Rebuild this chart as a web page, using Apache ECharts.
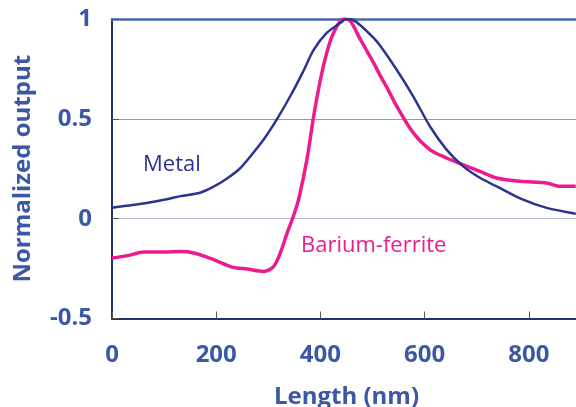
<!DOCTYPE html>
<html>
<head>
<meta charset="utf-8">
<script src="https://cdn.jsdelivr.net/npm/echarts@6/dist/echarts.min.js"></script>
<style>
  html, body { margin: 0; padding: 0; background: #fff; }
  #chart { width: 576px; height: 407px; }
</style>
</head>
<body>
<div id="chart"></div>
<script>
// 数据：近似值
const metalX = [0, 40, 80, 105, 131, 169, 195, 220, 245, 265, 291, 316, 342, 367, 387, 412, 438, 450, 462, 476, 502, 514, 546, 578, 610, 642, 674, 706, 738, 789, 834, 890];
const metalY = [0.055, 0.068, 0.085, 0.097, 0.113, 0.13, 0.16, 0.2, 0.25, 0.31, 0.396, 0.496, 0.613, 0.738, 0.845, 0.93, 0.98, 1.0, 0.995, 0.97, 0.905, 0.868, 0.747, 0.613, 0.463, 0.346, 0.262, 0.205, 0.162, 0.095, 0.054, 0.025];

const bariumX = [0, 30, 61, 100, 131, 157, 195, 233, 259, 291, 310, 323, 336, 348, 358, 374, 387, 400, 412, 425, 444, 457, 476, 502, 514, 530, 546, 578, 610, 642, 674, 706, 738, 783, 834, 860, 890];
const bariumY = [-0.197, -0.185, -0.167, -0.167, -0.165, -0.172, -0.205, -0.244, -0.252, -0.264, -0.24, -0.172, -0.072, 0.012, 0.095, 0.296, 0.513, 0.697, 0.83, 0.93, 1.0, 0.99, 0.9, 0.78, 0.72, 0.645, 0.565, 0.43, 0.346, 0.304, 0.27, 0.237, 0.204, 0.187, 0.179, 0.162, 0.162];

const xTicks = [0, 200, 400, 600, 800];
const yTicks = [-0.5, 0, 0.5, 1];

const labelColor = '#3a58a5';
const fontFamily = '"Open Sans", sans-serif';

const chart = echarts.init(document.getElementById('chart'));

const zip = (xs, ys) => xs.map((x, i) => [x, ys[i]]);

const option = {
  animation: false,
  grid: {
    left: 112,
    top: 19,
    right: -5, // 900 落在画布外一点
    bottom: 88.5,
    outerBoundsMode: 'none'
  },
  xAxis: [
    {
      type: 'value',
      min: xTicks[0],
      max: 900,
      interval: 200,
      name: 'Length (nm)',
      nameLocation: 'middle',
      nameGap: 67,
      nameTextStyle: { color: labelColor, fontSize: 24, fontWeight: 'bold', fontFamily },
      axisLine: { show: true, onZero: false, lineStyle: { color: '#25306e', width: 2 } },
      axisTick: { show: true, inside: true, length: 7, lineStyle: { color: '#555' } },
      axisLabel: {
        color: labelColor, fontSize: 24, fontWeight: 'bold', fontFamily, margin: 25,
        formatter: v => (xTicks.includes(v) ? String(v) : '')
      },
      splitLine: { show: false }
    },
    {
      // 顶部 y=1 的蓝色线
      type: 'value',
      position: 'top',
      min: 0,
      max: 900,
      axisLine: { show: true, onZero: false, lineStyle: { color: '#4a69ad', width: 2.5 } },
      axisTick: { show: false },
      axisLabel: { show: false },
      splitLine: { show: false }
    }
  ],
  yAxis: {
    type: 'value',
    min: yTicks[0],
    max: yTicks[yTicks.length - 1],
    interval: 0.5,
    name: 'Normalized output',
    nameLocation: 'middle',
    nameGap: 77,
    nameTextStyle: { color: labelColor, fontSize: 24, fontWeight: 'bold', fontFamily },
    axisLine: { show: true, onZero: false, lineStyle: { color: '#25306e', width: 2 } },
    axisTick: { show: true, inside: true, length: 7, lineStyle: { color: '#555' } },
    axisLabel: { color: labelColor, fontSize: 24, fontWeight: 'bold', fontFamily, margin: 20 },
    splitLine: {
      show: true,
      lineStyle: { color: ['rgba(0,0,0,0)', '#b3bcd9', '#8c97c2', 'rgba(0,0,0,0)'], width: 1 }
    }
  },
  series: [
    {
      name: 'Metal',
      type: 'line',
      data: zip(metalX, metalY),
      showSymbol: false,
      smooth: 0.3,
      lineStyle: { color: '#2b3590', width: 2.5 },
      z: 3
    },
    {
      name: 'Barium-ferrite',
      type: 'line',
      data: zip(bariumX, bariumY),
      showSymbol: false,
      smooth: 0.3,
      lineStyle: { color: '#ec1c8e', width: 3.5 },
      z: 2
    }
  ],
  graphic: [
    {
      type: 'text',
      left: 143,
      top: 154,
      style: { text: 'Metal', fill: '#2b3590', fontSize: 22, fontFamily }
    },
    {
      type: 'text',
      left: 301,
      top: 235,
      style: { text: 'Barium-ferrite', fill: '#ec1c8e', fontSize: 22, fontFamily }
    }
  ]
};

chart.setOption(option);
</script>
</body>
</html>
